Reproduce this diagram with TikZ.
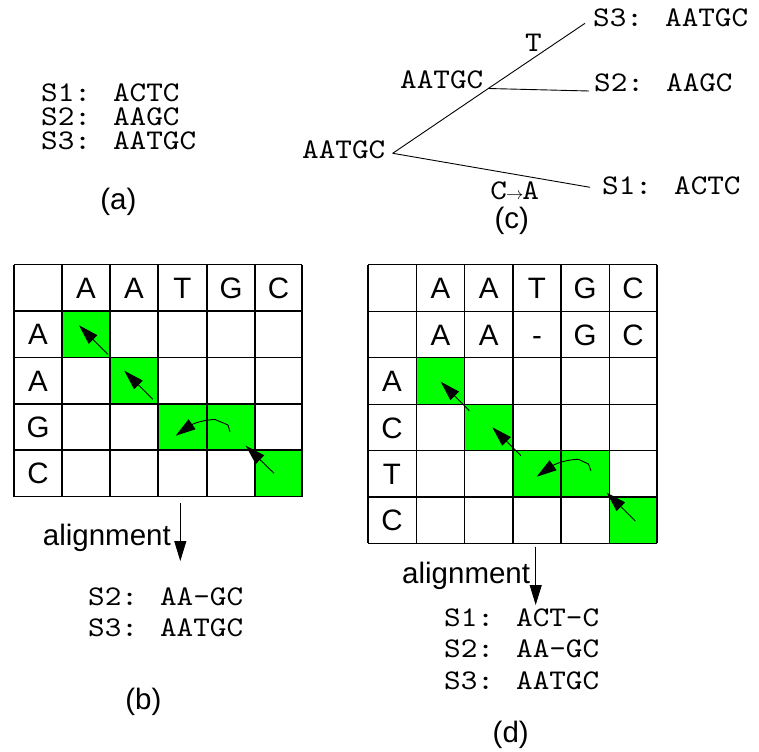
\documentclass[tikz,border=0pt]{standalone}
\usepackage{fontspec}
\setsansfont{Liberation Sans}
\newfontfamily\cour{lmmono10-regular.otf}[FakeStretch=1.11]
\usetikzlibrary{arrows.meta}
\begin{document}
\begin{tikzpicture}[x=1pt,y=-1pt,
  mono/.style={font=\fontsize{28.5}{28.5}\selectfont\cour, inner sep=0pt, anchor=base west},
  monoblock/.style={inner sep=0pt, anchor=base west, align=left},
  sans/.style={font=\fontsize{29.5}{29.5}\selectfont\sffamily, inner sep=0pt},
  cellltr/.style={sans, anchor=base},
  gridline/.style={line width=1.2pt, black},
  hit/.style={fill=green},
  arr/.style={line width=0.9pt, -{Triangle[length=20pt,width=12pt]}},
  branch/.style={line width=0.9pt}
]
\useasboundingbox (0,0) rectangle (759,751);
\fill[white] (0,0) rectangle (759,751);

% ---------- (a) ----------
\node[monoblock, font=\fontsize{28.5}{24.2}\selectfont\cour] (aseq) at (41,150) {S1: ACTC\\S2: AAGC\\S3: AATGC};
\node[sans] (alab) at (118.3,202) {(a)};

% ---------- (c) tree ----------
\node[mono] (root) at (302,159) {AATGC};
\node[mono] (mid) at (400,88.3) {AATGC};
\node[mono] (c3) at (593,26.7) {S3: AATGC};
\node[mono] (c2) at (594,91.7) {S2: AAGC};
\node[mono] (c1) at (602,194.3) {S1: ACTC};
\node[mono, anchor=base] (tlab) at (533.3,51.7) {T};
\node[mono, anchor=base] (calab) at (514.7,200) {C\kern-1pt{\fontsize{16}{16}\selectfont$\rightarrow$}\kern-1pt A};
\node[sans] (clab) at (511.7,220.8) {(c)};
\coordinate (rootp) at (392.7,153.3);
\coordinate (midp) at (488.3,88.5);
\coordinate (s3p) at (585,23.3);
\coordinate (s2p) at (589,91);
\coordinate (s1p) at (590,187.3);
\draw[branch] (rootp) -- (midp) -- (s3p);
\draw[branch] (midp) -- (s2p);
\draw[branch] (rootp) -- (s1p);

% ---------- (b) grid ----------
\fill[hit] (62,311) rectangle (110,357.7);
\fill[hit] (110,357.7) rectangle (158,404);
\fill[hit] (158,404) rectangle (255,450);
\fill[hit] (255,450) rectangle (302,496.7);
\foreach \x in {14,62,110,158,207,255,302}
  \draw[gridline] (\x,264.7) -- (\x,496.7);
\foreach \y in {264.7,311,357.7,404,450,496.7}
  \draw[gridline] (14,\y) -- (302,\y);
\node[cellltr] (bt1) at (86,298.5) {A};
\node[cellltr] (bt2) at (134,298.5) {A};
\node[cellltr] (bt3) at (182.5,298.5) {T};
\node[cellltr] (bt4) at (231,298.5) {G};
\node[cellltr] (bt5) at (278.5,298.5) {C};
\node[cellltr] (bl1) at (38,344.7) {A};
\node[cellltr] (bl2) at (38,391.3) {A};
\node[cellltr] (bl3) at (38,437.5) {G};
\node[cellltr] (bl4) at (38,483.8) {C};
\coordinate (ba1s) at (107.7,354.3); \coordinate (ba1e) at (79,325.3);
\coordinate (ba2s) at (152.7,399.3); \coordinate (ba2e) at (124.3,370.7);
\coordinate (ba4s) at (274,473.3);   \coordinate (ba4e) at (245.7,445.7);
\draw[arr] (ba1s) -- (ba1e);
\draw[arr] (ba2s) -- (ba2e);
\draw[arr] (ba4s) -- (ba4e);
\coordinate (bc1) at (230,431.7); \coordinate (bc2) at (228,425); \coordinate (bc3) at (215,419.5);
\coordinate (bce) at (175.7,435.7);
\draw[arr] (bc1) -- (bc2) -- (bc3) to[out=182,in=35] (bce);

% alignment (b)
\coordinate (bal1) at (180.3,503.3); \coordinate (bal2) at (180.3,561);
\draw[arr] (bal1) -- (bal2);
\node[sans, anchor=base east] (balab) at (171,545) {alignment};
\node[monoblock, font=\fontsize{28.5}{31.7}\selectfont\cour] (bseq) at (88,636.7) {S2: AA-GC\\S3: AATGC};
\node[sans] (blab) at (143.3,701.7) {(b)};

% ---------- (d) grid ----------
\fill[hit] (416.3,357.7) rectangle (464.7,404.3);
\fill[hit] (464.7,404.3) rectangle (513,450.7);
\fill[hit] (513,450.7) rectangle (609.3,497);
\fill[hit] (609.3,497) rectangle (657,543.3);
\foreach \x in {368,416.3,464.7,513,561,609.3,657}
  \draw[gridline] (\x,264.7) -- (\x,543.3);
\foreach \y in {264.7,311.3,357.7,404.3,450.7,497,543.3}
  \draw[gridline] (368,\y) -- (657,\y);
\node[cellltr] (dt1) at (440.5,298.5) {A};
\node[cellltr] (dt2) at (488.8,298.5) {A};
\node[cellltr] (dt3) at (537,298.5) {T};
\node[cellltr] (dt4) at (585,298.5) {G};
\node[cellltr] (dt5) at (633,298.5) {C};
\node[cellltr] (ds1) at (440.5,345) {A};
\node[cellltr] (ds2) at (488.8,345) {A};
\node[cellltr] (ds3) at (537,345) {-};
\node[cellltr] (ds4) at (585,345) {G};
\node[cellltr] (ds5) at (633,345) {C};
\node[cellltr] (dl1) at (392,391.5) {A};
\node[cellltr] (dl2) at (392,438) {C};
\node[cellltr] (dl3) at (392,484.5) {T};
\node[cellltr] (dl4) at (392,530.5) {C};
\coordinate (da1s) at (469.3,410.7); \coordinate (da1e) at (440.7,381.7);
\coordinate (da2s) at (521,455.7);   \coordinate (da2e) at (492.3,427.3);
\coordinate (da4s) at (635.3,521);   \coordinate (da4e) at (606.7,492.7);
\draw[arr] (da1s) -- (da1e);
\draw[arr] (da2s) -- (da2e);
\draw[arr] (da4s) -- (da4e);
\coordinate (dc1) at (591,471); \coordinate (dc2) at (588.5,464); \coordinate (dc3) at (578.3,459.3);
\coordinate (dce) at (536.7,476.7);
\draw[arr] (dc1) -- (dc2) -- (dc3) to[out=182,in=35] (dce);

% alignment (d)
\coordinate (dal1) at (535.7,546.7); \coordinate (dal2) at (535.7,605);
\draw[arr] (dal1) -- (dal2);
\node[sans, anchor=base east] (dalab) at (530.3,583.3) {alignment};
\node[monoblock, font=\fontsize{28.5}{31.2}\selectfont\cour] (dseq) at (444,689) {S1: ACT-C\\S2: AA-GC\\S3: AATGC};
\node[sans] (dlab) at (510.7,735) {(d)};
\end{tikzpicture}
\end{document}
